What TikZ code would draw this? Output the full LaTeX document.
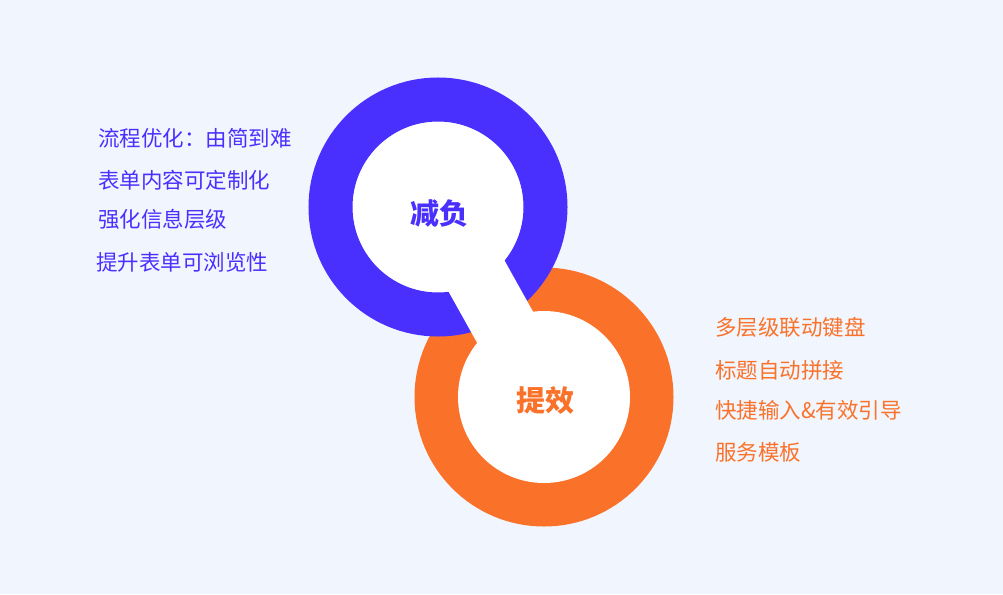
\documentclass[tikz,border=0pt]{standalone}
\usepackage{fontspec}
\setmainfont{Noto Sans CJK SC}
\usepackage{tikz}
\definecolor{bgblue}{HTML}{F1F5FE}
\definecolor{ringpurple}{HTML}{4A30FF}
\definecolor{ringorange}{HTML}{FA722A}
\tikzset{
  ring/.style={line width=44pt},
  item/.style={anchor=west, inner sep=0pt, font=\fontsize{21.5}{26}\selectfont},
  hub/.style={inner sep=0pt, font=\fontsize{29}{34}\selectfont\bfseries}
}

\begin{document}
\begin{tikzpicture}[x=1pt, y=-1pt]
      \fill[bgblue] (0,0) rectangle (1003,594);
      \coordinate (c1) at (438,207);
      \coordinate (c2) at (544,397);
	  \draw[ring, ringorange] (c2) circle (107.5pt);
	  \draw[ring, ringpurple] (c1) circle (107.5pt);
	  \draw[white, line width=64pt] (c1) -- (c2);
	  \fill[white] (c1) circle (85pt);
	  \fill[white] (c2) circle (86pt);
	  \node (jianfu) at (439,214) [hub, ringpurple] {减负};
	  \node (tixiao) at (545,400) [hub, ringorange] {提效};
	  \node (l1) at (98,138) [item, ringpurple] {流程优化：由简到难};
	  \node (l2) at (98,180) [item, ringpurple] {表单内容可定制化};
	  \node (l3) at (98,219) [item, ringpurple] {强化信息层级};
	  \node (l4) at (96,262) [item, ringpurple] {提升表单可浏览性};
	  \node (r1) at (715,327) [item, ringorange] {多层级联动键盘};
	  \node (r2) at (715,370) [item, ringorange] {标题自动拼接};
	  \node (r3) at (715,410) [item, ringorange] {快捷输入\&有效引导};
	  \node (r4) at (715,452) [item, ringorange] {服务模板};
    \end{tikzpicture}
\end{document}
